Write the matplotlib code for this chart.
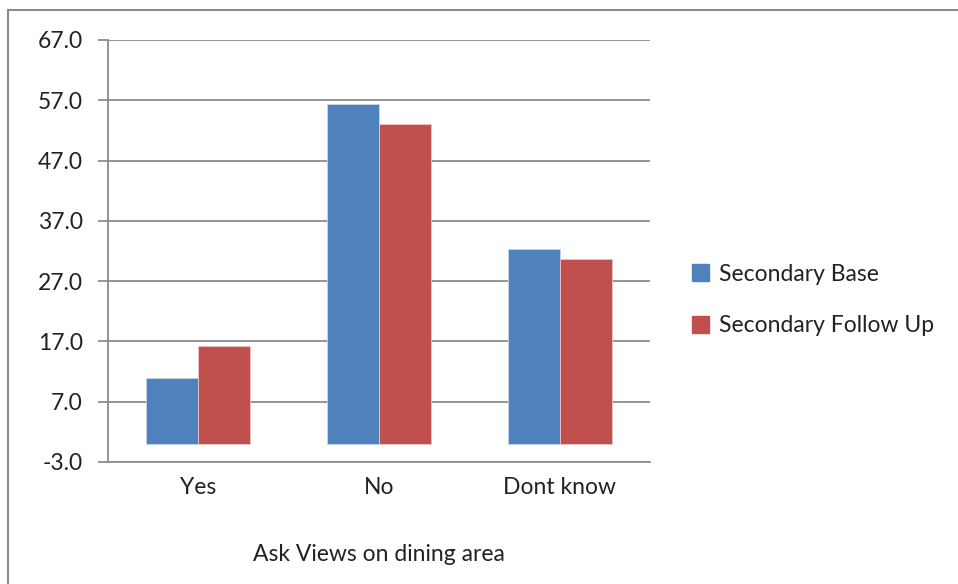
import numpy as np
import matplotlib.pyplot as plt
from matplotlib.lines import Line2D

categories = ['Yes', 'No', 'Dont know']
base = [10.9, 56.4, 32.3]
follow_up = [16.2, 53.0, 30.6]
series_names = ['Secondary Base', 'Secondary Follow Up']
yticks = [-3.0, 7.0, 17.0, 27.0, 37.0, 47.0, 57.0, 67.0]

plt.rcParams['font.family'] = ['Lato', 'DejaVu Sans']
fs = 16.5

W, H = 958, 584
fig = plt.figure(figsize=(W / 100, H / 100), dpi=100)

# outer chart frame (left and top edges visible)
fig.add_artist(Line2D([8 / W, 8 / W], [0, 1 - 10 / H], color='#8c8c8c', lw=1.5))
fig.add_artist(Line2D([8 / W, 1], [1 - 10 / H, 1 - 10 / H], color='#8c8c8c', lw=1.5))

ax = fig.add_axes([108 / W, (H - 462) / H, (650 - 108) / W, (462 - 40) / H])

x = np.arange(len(categories))
w = 0.287
ax.bar(x - w / 2, base, w, color='#4f81bd', edgecolor='#c6d6ea', linewidth=0.6,
       label=series_names[0], zorder=3)
ax.bar(x + w / 2, follow_up, w, color='#c0504d', edgecolor='#ecc6c5', linewidth=0.6,
       label=series_names[1], zorder=3)

ax.set_xlim(-0.5, 2.5)
ax.set_ylim(-3, 67)
ax.set_yticks(yticks)
ax.set_yticklabels(['%.1f' % v for v in yticks], fontsize=fs, color='#222222')
ax.set_xticks(x)
ax.set_xticklabels(categories, fontsize=fs, color='#222222')
ax.tick_params(axis='x', length=0, pad=11)
ax.tick_params(axis='y', length=7, color='#8c8c8c', width=1.3, pad=11)
ax.yaxis.grid(True, color='#8c8c8c', lw=1.3, zorder=0)
for s in ['top', 'right']:
    ax.spines[s].set_visible(False)
for s in ['left', 'bottom']:
    ax.spines[s].set_color('#8c8c8c')
    ax.spines[s].set_linewidth(1.3)

ax.set_xlabel('Ask Views on dining area', fontsize=fs, labelpad=33, color='#222222')

handles = [plt.Rectangle((0, 0), 1, 1, color='#4f81bd'),
           plt.Rectangle((0, 0), 1, 1, color='#c0504d')]
fig.legend(handles, series_names, loc='center left',
           bbox_to_anchor=(671 / W, 1 - 300 / H), frameon=False, fontsize=fs,
           handlelength=0.75, handleheight=0.75, handletextpad=0.45, labelspacing=1.35,
           labelcolor='#222222')

plt.savefig('out.png', dpi=100)
